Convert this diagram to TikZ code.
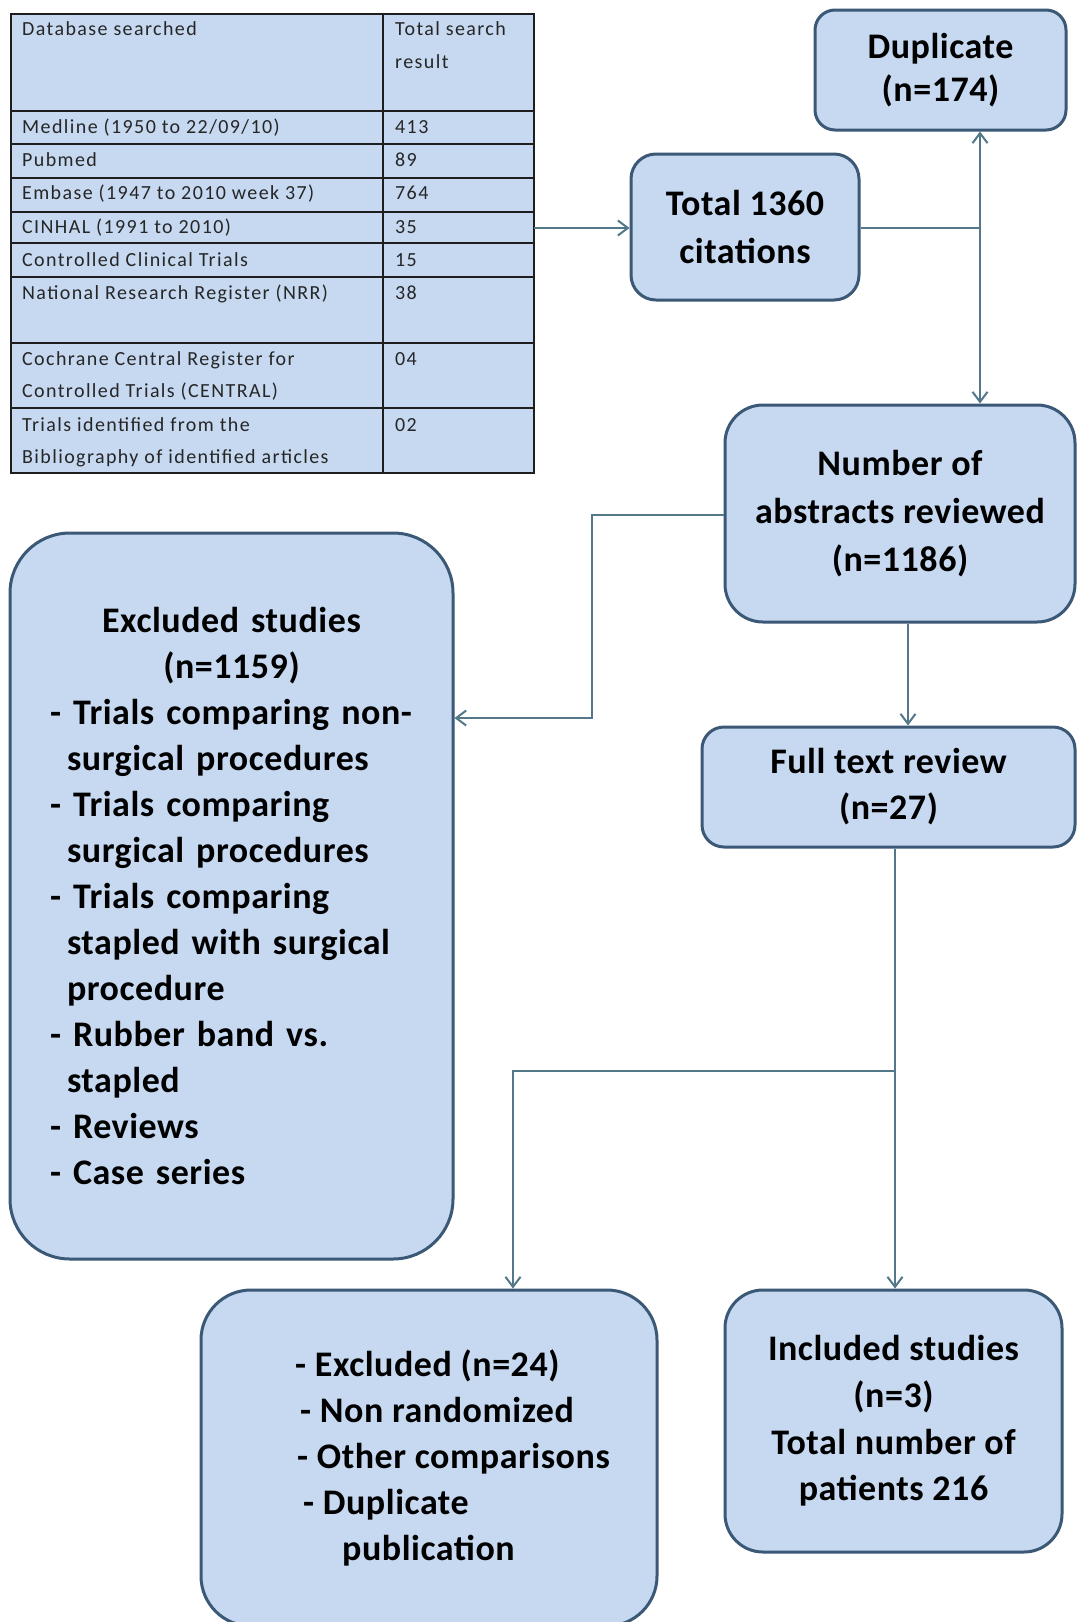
\documentclass[tikz,border=0pt]{standalone}
\usepackage{fontspec}
\setmainfont{Carlito}
\newfontfamily\tabfont[LetterSpace=7]{Carlito}
\newfontfamily\boxfont[LetterSpace=1.5]{Carlito}
\usetikzlibrary{arrows.meta}
\definecolor{boxfill}{RGB}{198,217,241}
\definecolor{boxline}{RGB}{59,88,118}
\definecolor{connline}{RGB}{82,120,138}
\definecolor{tabrule}{RGB}{30,30,30}
\definecolor{tabink}{RGB}{38,38,38}
\tikzset{
  box/.style={draw=boxline, line width=3pt, fill=boxfill, inner sep=0pt, align=center, text=black},
  bfont/.style={font=\boxfont\bfseries\fontsize{36}{#1}\selectfont},
  conn/.style={draw=connline, line width=2pt},
  arr/.style={conn, -{Straight Barb[length=10pt,width=15pt]}},
  tabrl/.style={draw=tabrule, line width=2.2pt},
  tabtxt/.style={anchor=base west, inner sep=0pt, text=tabink, font=\tabfont\fontsize{20}{33}\selectfont},
}
\begin{document}
\begin{tikzpicture}[x=1pt,y=-1pt]
\useasboundingbox (0,0) rectangle (1077,1622);
\fill[white] (0,0) rectangle (1077,1622);

% ---------- table ----------
\fill[boxfill] (11,14) rectangle (534,473);
\draw[tabrl] (11,14) rectangle (534,473);
\draw[tabrl] (383,14) -- (383,473);
\foreach \yy in {111,144,178,212,243,277,343,408}
  \draw[tabrl] (11,\yy) -- (534,\yy);

\node[tabtxt] (t0a) at (22,35) {Database searched};
\node[tabtxt] (t0b) at (395,35) {Total search};
\node[tabtxt] (t0c) at (395,68) {result};
\node[tabtxt] (t1a) at (22,133) {Medline (1950 to 22/09/10)};
\node[tabtxt] (t1b) at (395,133) {413};
\node[tabtxt] (t2a) at (22,166) {Pubmed};
\node[tabtxt] (t2b) at (395,166) {89};
\node[tabtxt] (t3a) at (22,199) {Embase (1947 to 2010 week 37)};
\node[tabtxt] (t3b) at (395,199) {764};
\node[tabtxt] (t4a) at (22,233) {CINHAL (1991 to 2010)};
\node[tabtxt] (t4b) at (395,233) {35};
\node[tabtxt] (t5a) at (22,266) {Controlled Clinical Trials};
\node[tabtxt] (t5b) at (395,266) {15};
\node[tabtxt] (t6a) at (22,299) {National Research Register (NRR)};
\node[tabtxt] (t6b) at (395,299) {38};
\node[tabtxt] (t7a) at (22,365) {Cochrane Central Register for};
\node[tabtxt] (t7c) at (22,397) {Controlled Trials (CENTRAL)};
\node[tabtxt] (t7b) at (395,365) {04};
\node[tabtxt] (t8a) at (22,431) {Trials identified from the};
\node[tabtxt] (t8c) at (22,463) {Bibliography of identified articles};
\node[tabtxt] (t8b) at (395,431) {02};
\coordinate (tabR) at (534,228);

% ---------- boxes ----------
\node[box, bfont=43, minimum width=251pt, minimum height=120pt, rounded corners=20pt]
  (dup) at (940.5,70) {Duplicate\\(n=174)};
\node[box, bfont=48, minimum width=228pt, minimum height=146pt, rounded corners=25pt]
  (total) at (745,227) {Total 1360\\citations};
\node[box, bfont=48, minimum width=350pt, minimum height=217pt, rounded corners=38pt]
  (num) at (900,513.5) {Number of\\abstracts reviewed\\(n=1186)};
\node[box, bfont=46, minimum width=373pt, minimum height=120pt, rounded corners=22pt]
  (full) at (888.5,787) {Full text review\\(n=27)};
\node[box, bfont=46, minimum width=443pt, minimum height=726pt, rounded corners=60pt,
      text width=363pt, align=left]
  (excl) at (231.5,896)
  {\makebox[363pt]{Excluded studies}\\
   \makebox[363pt]{(n=1159)}\\
   - Trials comparing non-\\
   \hspace*{17pt}surgical procedures\\
   - Trials comparing\\
   \hspace*{17pt}surgical procedures\\
   - Trials comparing\\
   \hspace*{17pt}stapled with surgical\\
   \hspace*{17pt}procedure\\
   - Rubber band vs.\\
   \hspace*{17pt}stapled\\
   - Reviews\\
   - Case series};
\node[box, minimum width=456pt, minimum height=336pt, rounded corners=50pt]
  (ex2) at (429,1458) {};
\node[bfont=46, anchor=west, align=left, inner sep=0pt, text=black]
  (ex2t) at (295,1458)
  {- Excluded (n=24)\\
   \hspace*{5pt}- Non randomized\\
   \hspace*{2pt}- Other comparisons\\
   \hspace*{8pt}- Duplicate\\
   \hspace*{47pt}publication};
\node[box, bfont=46.7, minimum width=337pt, minimum height=262pt, rounded corners=38pt]
  (inc) at (893.5,1421) {Included studies\\(n=3)\\Total number of\\patients 216};

% ---------- connectors ----------
\coordinate (jn) at (980,228);
\coordinate (bendA) at (592,718);
\coordinate (nfx) at (908,622);
\coordinate (split) at (895,1071);
\coordinate (splitL) at (513,1071);

\draw[arr] (tabR) -- (total.west |- tabR);
\draw[conn] (total.east |- jn) -- (jn);
\draw[arr] (jn) -- (jn |- dup.south);
\draw[arr] (jn) -- (jn |- num.north);
\draw[arr] (num.west |- 0,515) -| (bendA) -- (excl.east |- bendA);
\draw[arr] (nfx |- num.south) -- (nfx |- full.north);
\draw[arr] (split |- full.south) -- (split |- inc.north);
\draw[arr] (split) -- (splitL) -- (splitL |- ex2.north);
\end{tikzpicture}
\end{document}
